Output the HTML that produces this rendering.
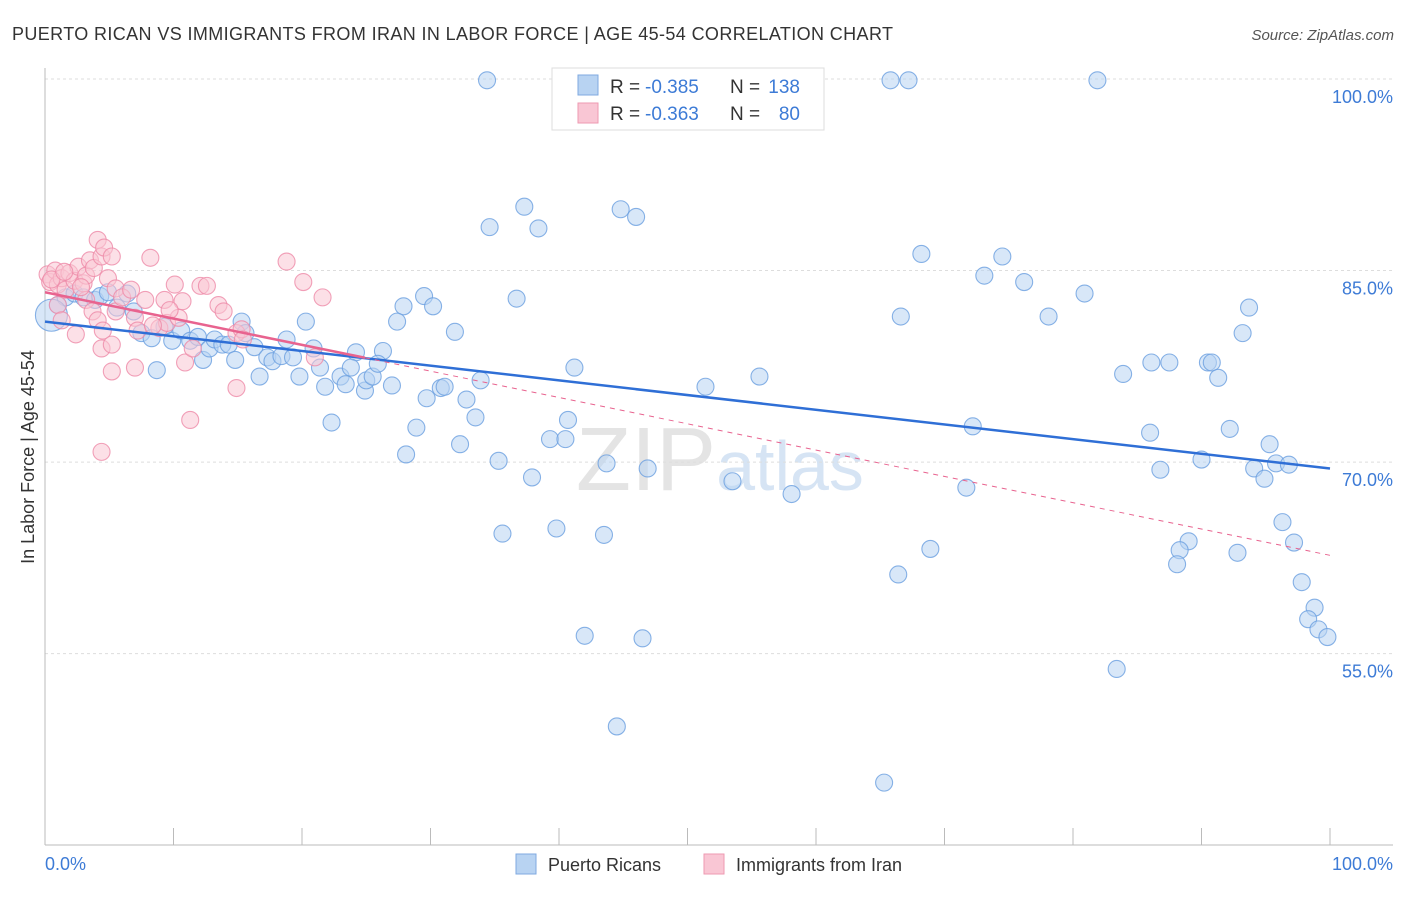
<!DOCTYPE html>
<html><head><meta charset="utf-8"><style>
body{margin:0;background:#fff;font-family:"Liberation Sans",sans-serif;}
svg text{font-family:"Liberation Sans",sans-serif;}
</style></head><body>
<svg id="c" width="1406" height="892">
<text x="12" y="40" font-size="18" fill="#333" textLength="881" lengthAdjust="spacing">PUERTO RICAN VS IMMIGRANTS FROM IRAN IN LABOR FORCE | AGE 45-54 CORRELATION CHART</text>
<text x="1394" y="40" font-size="15" fill="#555" text-anchor="end" font-style="italic">Source: ZipAtlas.com</text>
<text x="720" y="490" font-size="90" fill="#e4e4e4" text-anchor="middle" font-family="Liberation Serif">ZIP<tspan fill="#d6e4f4" font-family="Liberation Sans" font-size="70">atlas</tspan></text>
<g id="grid"></g>
<g id="axes"></g>
<g id="pts"></g>
<g id="trend"></g>
<text transform="translate(34,457) rotate(-90)" font-size="18" fill="#333" text-anchor="middle">In Labor Force | Age 45-54</text>
<text x="45" y="870" font-size="18" fill="#3d7bd6">0.0%</text>
<text x="1393" y="870" font-size="18" fill="#3d7bd6" text-anchor="end">100.0%</text>
<g>
<rect x="552" y="68" width="272" height="62" fill="#fff" stroke="#ddd"/>
<rect x="578" y="75" width="20" height="20" fill="#b8d3f2" stroke="#7fa9e0"/>
<rect x="578" y="103" width="20" height="20" fill="#f9c6d4" stroke="#ee9ab2"/>
<text x="610" y="93" font-size="19" fill="#333">R =</text>
<text x="645" y="93" font-size="19" fill="#3d7bd6">-0.385</text>
<text x="730" y="93" font-size="19" fill="#333">N =</text>
<text x="800" y="93" font-size="19" fill="#3d7bd6" text-anchor="end">138</text>
<text x="610" y="120" font-size="19" fill="#333">R =</text>
<text x="645" y="120" font-size="19" fill="#3d7bd6">-0.363</text>
<text x="730" y="120" font-size="19" fill="#333">N =</text>
<text x="800" y="120" font-size="19" fill="#3d7bd6" text-anchor="end">80</text>
</g>
<g>
<rect x="516" y="854" width="20" height="20" fill="#b8d3f2" stroke="#7fa9e0"/>
<text x="548" y="871" font-size="18" fill="#333">Puerto Ricans</text>
<rect x="704" y="854" width="20" height="20" fill="#f9c6d4" stroke="#ee9ab2"/>
<text x="736" y="871" font-size="18" fill="#333">Immigrants from Iran</text>
</g>
</svg>
<script>
const yTicks=[100,85,70,55];
const yTickLabels=["100.0%","85.0%","70.0%","55.0%"];
const xTicks=[0,10,20,30,40,50,60,70,80,90,100];
const blueX=[34.4,65.8,67.2,81.9,49.2,37.3,44.8,46.0,34.6,38.4,68.2,74.5,73.1,76.2,80.9,93.7,66.6,78.1,93.2,36.7,29.5,27.9,30.2,27.4,20.3,31.9,26.3,24.2,41.2,83.9,86.1,87.5,90.5,90.8,91.3,55.6,51.4,33.9,30.8,31.1,27.0,24.9,29.7,32.8,33.5,40.7,22.3,28.9,39.3,40.5,32.3,28.1,72.2,86.0,92.2,95.3,35.3,43.7,46.9,90.0,86.8,94.1,95.8,96.8,94.9,37.9,53.5,58.1,71.7,35.6,39.8,43.5,96.3,97.2,89.0,88.3,92.8,68.9,88.1,66.4,97.8,98.8,98.3,99.1,99.8,42.0,46.5,83.4,44.5,65.3,1.0,1.6,2.3,3.0,3.9,4.3,4.9,5.6,6.4,6.9,7.5,8.3,8.7,9.3,9.9,10.6,11.3,11.9,12.3,12.8,13.2,13.8,14.3,14.8,15.3,15.6,16.3,16.7,17.3,17.7,18.4,18.8,19.3,19.8,20.9,21.4,21.8,23.0,23.4,23.8,25.0,25.5,25.9];
const blueY=[99.9,99.9,99.9,99.9,99.9,90.0,89.8,89.2,88.4,88.3,86.3,86.1,84.6,84.1,83.2,82.1,81.4,81.4,80.1,82.8,83.0,82.2,82.2,81.0,81.0,80.2,78.7,78.6,77.4,76.9,77.8,77.8,77.8,77.8,76.6,76.7,75.9,76.4,75.8,75.9,76.0,75.6,75.0,74.9,73.5,73.3,73.1,72.7,71.8,71.8,71.4,70.6,72.8,72.3,72.6,71.4,70.1,69.9,69.5,70.2,69.4,69.5,69.9,69.8,68.7,68.8,68.5,67.5,68.0,64.4,64.8,64.3,65.3,63.7,63.8,63.1,62.9,63.2,62.0,61.2,60.6,58.6,57.7,56.9,56.3,56.4,56.2,53.8,49.3,44.9,82.3,82.9,83.2,82.9,82.7,83.0,83.3,82.1,83.2,81.8,80.1,79.7,77.2,80.6,79.5,80.3,79.5,79.8,78.0,78.9,79.6,79.2,79.2,78.0,81.0,80.1,79.0,76.7,78.2,77.9,78.3,79.6,78.2,76.7,78.9,77.4,75.9,76.7,76.1,77.4,76.4,76.7,77.7];
const pinkX=[0.2,0.4,0.8,1.0,1.3,1.6,1.9,2.3,2.6,3.0,3.2,3.5,3.8,4.1,4.4,4.6,4.9,5.2,5.5,3.2,3.7,1.0,1.3,2.4,4.1,4.4,4.5,5.2,5.5,5.2,4.4,6.0,6.7,7.0,7.2,7.8,8.2,7.0,8.9,9.5,10.1,10.4,10.7,10.9,11.3,11.5,12.1,12.6,13.5,13.9,14.9,14.9,15.3,15.4,18.8,20.1,21.0,21.6,8.4,9.3,9.7,0.5,1.5,2.8];
const pinkY=[84.7,84.1,85.0,83.9,84.4,83.5,84.8,84.2,85.3,84.0,84.6,85.8,85.2,87.4,86.1,86.8,84.4,86.1,83.6,82.7,81.8,82.3,81.1,80.0,81.1,78.9,80.3,79.2,81.8,77.1,70.8,82.9,83.5,81.3,80.3,82.7,86.0,77.4,80.5,80.9,83.9,81.3,82.6,77.8,73.3,78.9,83.8,83.8,82.3,81.8,75.8,80.1,80.4,79.6,85.7,84.1,78.2,82.9,80.7,82.7,81.9,84.3,84.9,83.7];
const blueTrend=[81.0,69.5];
const pinkTrend=[83.3,62.7];
const pinkSolidEnd=24.9;
const NS="http://www.w3.org/2000/svg";
const X=v=>45+v*12.85, Y=v=>79+(100-v)*12.77;
function mk(tag,attrs,parent){const e=document.createElementNS(NS,tag);for(const k in attrs)e.setAttribute(k,attrs[k]);document.getElementById(parent).appendChild(e);return e;}
yTicks.forEach((t,i)=>{
 const l=mk('line',{x1:45,x2:1393,y1:Y(t),y2:Y(t),stroke:'#ddd','stroke-dasharray':'3,3'},'grid');
 
 
 const tx=mk('text',{x:1393,y:Y(t)+24,'font-size':18,fill:'#3d7bd6','text-anchor':'end'},'grid');tx.textContent=yTickLabels[i];
 
 
});
let a=mk('line',{x1:45,x2:45,y1:68,y2:845,stroke:'#bbb'},'axes');


a=mk('line',{x1:45,x2:1393,y1:845,y2:845,stroke:'#bbb'},'axes');


xTicks.forEach(t=>{const l=mk('line',{x1:X(t),x2:X(t),y1:828,y2:845,stroke:'#bbb'},'axes');
 
 });
function dot(x,y,r,fill,stroke,name){const c=mk('circle',{cx:X(x),cy:Y(y),r:r,fill:fill,'fill-opacity':0.55,stroke:stroke,'stroke-width':1.1,'stroke-opacity':0.8},'pts');
 
 }
blueX.forEach((x,i)=>dot(x,blueY[i],8.5,'#b8d3f2','#6a9fe0','puerto-rican-point'));
dot(0.5,81.5,16,'#b8d3f2','#6a9fe0','puerto-rican-point');
pinkX.forEach((x,i)=>dot(x,pinkY[i],8.5,'#f9c6d4','#ee8aa8','iran-point'));
let t=mk('line',{x1:X(0),y1:Y(blueTrend[0]),x2:X(100),y2:Y(blueTrend[1]),stroke:'#2f6fd6','stroke-width':2.5},'trend');


const pAt=v=>pinkTrend[0]+(pinkTrend[1]-pinkTrend[0])*v/100;
t=mk('line',{x1:X(0),y1:Y(pinkTrend[0]),x2:X(pinkSolidEnd),y2:Y(pAt(pinkSolidEnd)),stroke:'#e8638f','stroke-width':2.5},'trend');


t=mk('line',{x1:X(pinkSolidEnd),y1:Y(pAt(pinkSolidEnd)),x2:X(100),y2:Y(pinkTrend[1]),stroke:'#e8638f','stroke-width':1,'stroke-dasharray':'5,5'},'trend');


</script>
</body></html>
